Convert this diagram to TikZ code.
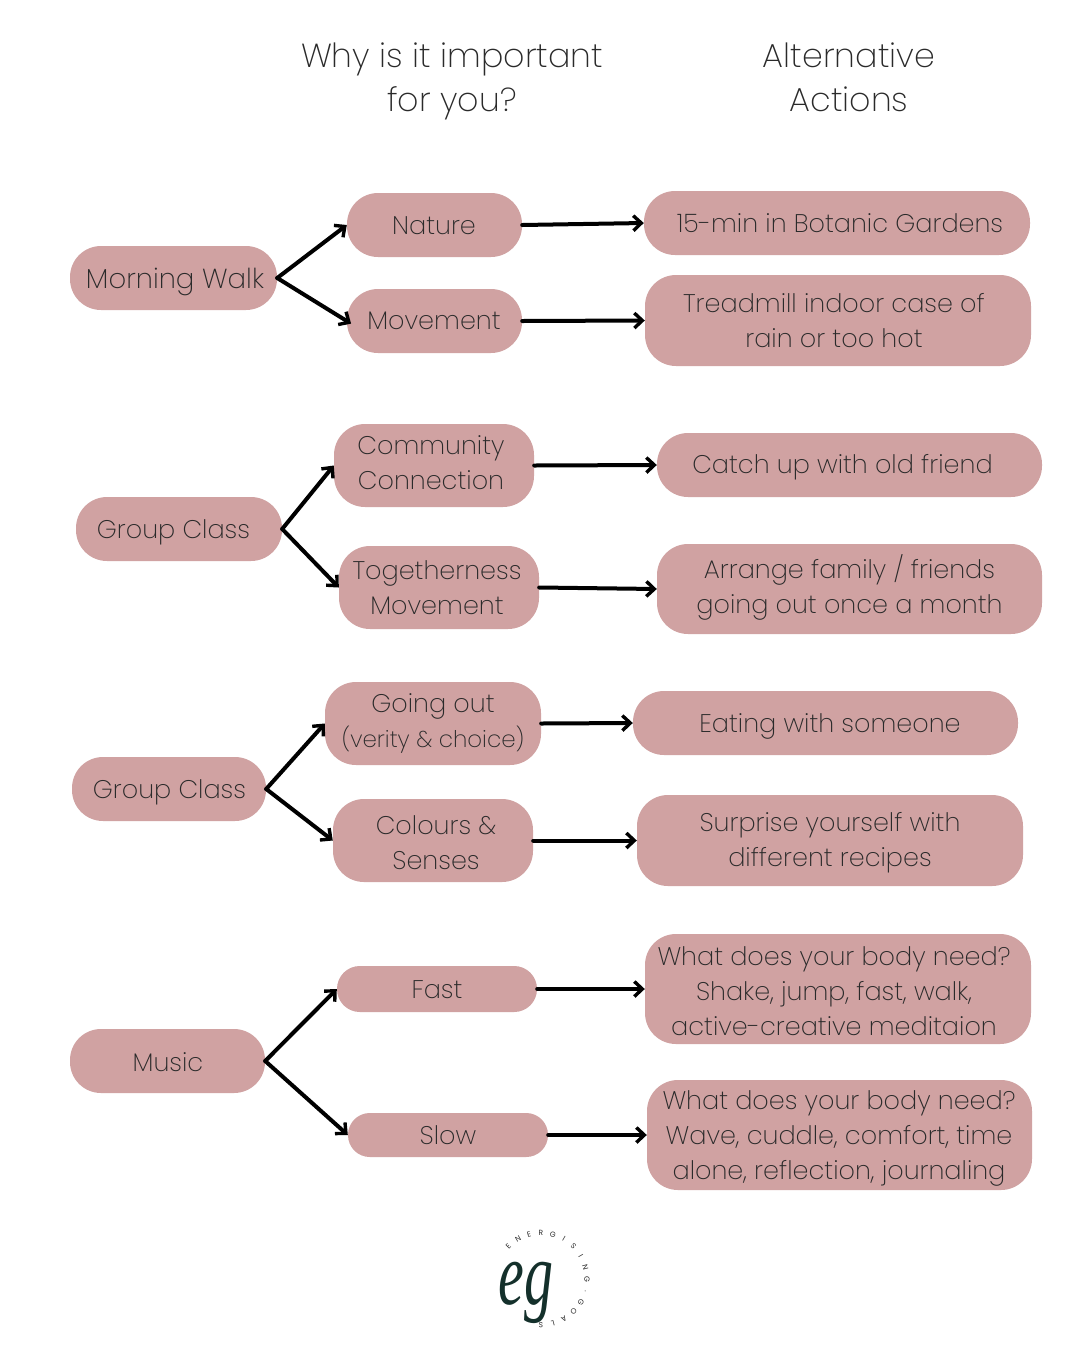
\documentclass[tikz,border=0pt]{standalone}
\usepackage{fontspec}
\setmainfont{Poppins ExtraLight}
\newfontfamily\egfont{Liberation Serif}
\newfontfamily\logofont{Poppins}
\usetikzlibrary{arrows.meta}
\definecolor{pillc}{HTML}{D0A2A2}
\definecolor{inkc}{HTML}{2A2A2A}
\definecolor{logoc}{HTML}{14302B}
\tikzset{
  pill/.style={fill=pillc,inner sep=0pt},
  pilltext/.style={align=center,text=inkc,inner sep=0pt,yshift=-3pt,font=\fontsize{25.5}{35}\selectfont},
  head/.style={align=center,text=inkc,inner sep=0pt,yshift=-3pt,font=\fontsize{33.3}{44}\selectfont},
  conn/.style={line width=4pt,line cap=round,-{Straight Barb[length=8pt,width=15pt,line width=3.4pt]}},
  logol/.style={text=inkc,font=\logofont\fontsize{7.5}{9}\selectfont,inner sep=0pt},
}
\newcommand{\pillbox}[8]{% name, x0, y0, x1, y1, text x, text y, text
  \pgfmathsetmacro{\rr}{min(31,(#5-#3)/2-0.2)}
  \node[pill,rounded corners=\rr pt,minimum width=#4pt-#2pt,minimum height=#5pt-#3pt] (#1) at ({(#2+#4)/2},{(#3+#5)/2}) {};
  \node[pilltext] (#1t) at (#6,#7) {#8};}
\begin{document}
\begin{tikzpicture}[x=1pt,y=-1pt]
\useasboundingbox (0,0) rectangle (1080,1350);
\node[head] (h1) at (452,78) {\strut Why is it important\\\strut for you?};
\node[head] (h2) at (849,78) {\strut Alternative\\\strut Actions};
\pillbox{a}{70}{246}{277}{310}{175}{278}{\fontsize{27.5}{35}\selectfont\strut Morning Walk}
\pillbox{a1}{347}{193}{522}{257}{434}{224}{\strut Nature}
\pillbox{a2}{347}{289}{522}{353}{434}{319}{\strut Movement}
\pillbox{a1r}{644}{191}{1030}{255}{840}{222}{\strut 15-min in Botanic Gardens}
\pillbox{a2r}{645}{275}{1031}{366}{834}{320}{\strut Treadmill indoor case of\\\strut rain or too hot}
\pillbox{b}{76}{497}{282}{561}{173.5}{528}{\strut Group Class}
\pillbox{b1}{334}{424}{534}{507}{431}{462}{\strut Community\\\strut Connection}
\pillbox{b2}{339}{546}{539}{629}{437}{587}{\strut Togetherness\\\strut Movement}
\pillbox{b1r}{657}{433}{1042}{497}{842.5}{463}{\strut Catch up with old friend}
\pillbox{b2r}{657}{544}{1042}{634}{849.5}{586}{\strut Arrange family / friends\\\strut going out once a month}
\pillbox{c}{72}{757}{266}{821}{169.5}{788}{\strut Group Class}
\pillbox{c1}{325}{682}{541}{765}{433}{720}{\strut Going out\\\fontsize{23}{35}\selectfont\strut (verity \& choice)}
\pillbox{c2}{333}{799}{533}{882}{436}{842}{\strut Colours \&\\\strut Senses}
\pillbox{c1r}{633}{691}{1018}{755}{830}{722}{\strut Eating with someone}
\pillbox{c2r}{637}{795}{1023}{886}{830}{839}{\strut Surprise yourself with\\\strut different recipes}
\pillbox{d}{70}{1029}{265}{1093}{168}{1061}{\strut Music}
\pillbox{d1}{337}{966}{537}{1012}{437}{988}{\strut Fast}
\pillbox{d2}{348}{1113}{548}{1157}{448}{1134}{\strut Slow}
\pillbox{d1r}{645}{934}{1031}{1044}{834}{990}{\strut What does your body need?\\\strut Shake, jump, fast, walk,\\\strut active-creative meditaion}
\pillbox{d2r}{647}{1080}{1032}{1190}{839}{1134}{\strut What does your body need?\\\strut Wave, cuddle, comfort, time\\\strut alone, reflection, journaling}
\foreach \s/\t in {a/a1,b/b1,b/b2,c/c1,c/c2,d/d1,d/d2,a1/a1r,a2/a2r,b1/b1r,b2/b2r,c1/c1r,c2/c2r,d1/d1r,d2/d2r}
  \draw[conn] (\s.east) -- (\t.west);
\draw[conn,shorten >=-5pt] (a.east) -- (a2.west);
\foreach \ch [count=\i from 0] in {E,N,E,R,G,I,S,I,N,G,.,G,O,A,L,S}
  \node[logol,rotate={135-15*\i-90}] (l\i) at ({541+46*cos(135-15*\i)},{1279-46*sin(135-15*\i)}) {\ch};
\node[text=logoc,inner sep=0pt,font=\egfont\itshape\fontsize{58}{58}\selectfont] (eg) at (526,1293) {\scalebox{1}[1.55]{eg}};
\end{tikzpicture}
\end{document}
